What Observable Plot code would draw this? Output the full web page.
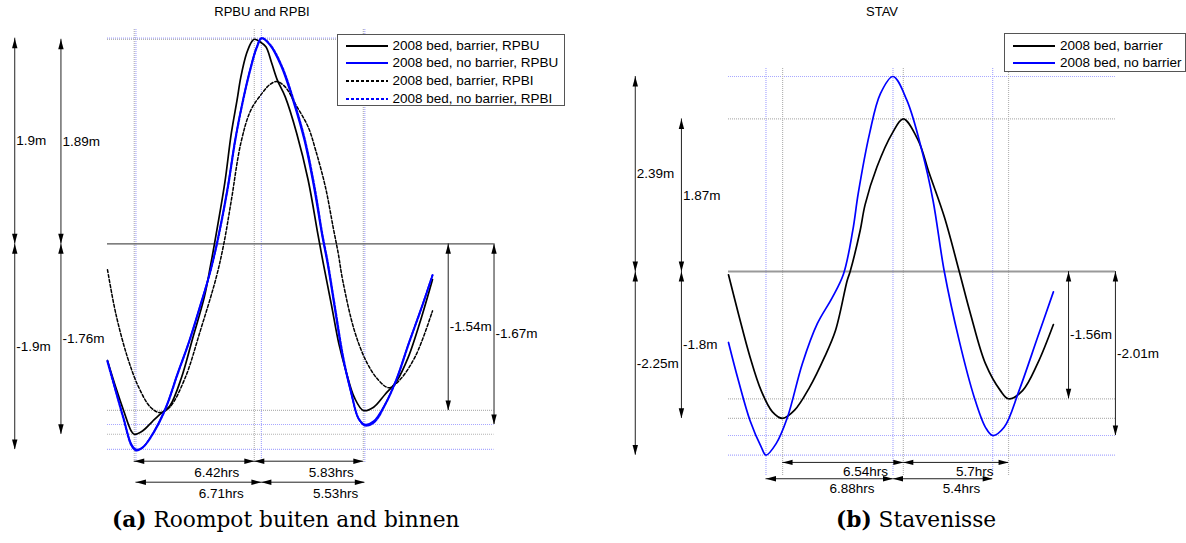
<!DOCTYPE html>
<html><head><meta charset="utf-8">
<script src="https://cdn.jsdelivr.net/npm/d3@7"></script>
<script src="https://cdn.jsdelivr.net/npm/@observablehq/plot@0.6"></script>
<style>
html,body{margin:0;padding:0;background:#fff;}
#fig{position:relative;width:1186px;height:543px;font-family:"Liberation Sans",Arial,sans-serif;color:#000;overflow:hidden}
.panel{position:absolute;top:0;width:593px;height:543px;}
.title{position:absolute;top:4px;font-size:13px;line-height:16px;transform:translateX(-50%);white-space:nowrap}
.plot{position:absolute;top:24px;left:0}
.legend{position:absolute;background:#fff;border:1px solid #555;font-size:13.5px;box-sizing:border-box}
.legend .row{position:absolute;left:0;height:16px;line-height:16px;white-space:nowrap}
.legend svg{position:absolute;top:0}
.legend span{position:absolute;top:0}
.caption{position:absolute;top:507px;font-family:"DejaVu Serif",serif;font-size:21.7px;line-height:26px;white-space:nowrap}
</style></head>
<body>
<div id="fig"></div>
<script>
// ---------------- DATA (hours, metres) ----------------
// Panel (a): Roompot buiten (RPBU) and binnen (RPBI)
const rpbuBarrier = [[0,-1.08],[0.45,-1.33],[0.86,-1.54],[1.27,-1.73],[1.43,-1.76],[1.87,-1.73],[2.41,-1.64],[2.91,-1.56],[3.33,-1.50],[3.95,-1.24],[4.56,-0.87],[5.18,-0.49],[5.51,-0.20],[5.72,0],[6.27,0.56],[6.62,1.02],[6.93,1.33],[7.13,1.54],[7.44,1.76],[7.72,1.87],[7.85,1.89],[8.13,1.87],[8.47,1.82],[8.78,1.67],[9.09,1.51],[9.50,1.36],[10.12,1.02],[10.73,0.59],[11.25,0.09],[11.55,-0.19],[11.97,-0.56],[12.38,-0.93],[12.79,-1.20],[13.20,-1.42],[13.68,-1.54],[14.23,-1.51],[14.85,-1.39],[15.46,-1.27],[16.08,-1.05],[16.79,-0.68],[17.38,-0.33]];
const rpbuNoBarrier = [[0,-1.08],[0.45,-1.36],[0.86,-1.61],[1.27,-1.85],[1.52,-1.90],[1.89,-1.88],[2.50,-1.73],[3.12,-1.51],[3.74,-1.20],[4.36,-0.90],[4.97,-0.56],[5.49,-0.26],[5.90,0.05],[6.42,0.52],[6.82,0.96],[7.24,1.33],[7.65,1.63],[7.96,1.81],[8.23,1.90],[8.67,1.84],[9.29,1.64],[9.91,1.33],[10.52,0.96],[11.04,0.52],[11.46,0.09],[11.77,-0.19],[12.17,-0.62],[12.58,-1.05],[13.00,-1.36],[13.41,-1.61],[13.76,-1.67],[14.23,-1.64],[14.85,-1.48],[15.47,-1.24],[16.08,-0.93],[16.79,-0.59],[17.38,-0.29]];
const rpbiBarrier = [[0,-0.24],[0.45,-0.65],[1.07,-1.05],[1.68,-1.33],[2.30,-1.51],[2.81,-1.56],[3.33,-1.51],[4.15,-1.24],[4.97,-0.80],[5.80,-0.32],[6.22,0.0],[6.62,0.40],[7.13,0.93],[7.65,1.23],[8.26,1.39],[8.67,1.47],[9.05,1.50],[9.50,1.45],[10.12,1.27],[10.73,1.08],[11.14,0.86],[11.66,0.52],[12.07,0.15],[12.34,-0.09],[12.58,-0.34],[13.20,-0.80],[13.82,-1.08],[14.44,-1.25],[15.05,-1.33],[15.67,-1.25],[16.49,-1.03],[17.38,-0.62]];
const rpbiNoBarrier = [[0,-1.09],[0.45,-1.37],[0.86,-1.62],[1.27,-1.86],[1.53,-1.91],[1.90,-1.88],[2.52,-1.73],[3.14,-1.51],[3.76,-1.20],[4.38,-0.90],[4.99,-0.56],[5.51,-0.25],[5.92,0.05],[6.44,0.52],[6.84,0.96],[7.26,1.33],[7.67,1.63],[7.98,1.81],[8.25,1.90],[8.70,1.84],[9.33,1.64],[9.95,1.33],[10.56,0.96],[11.08,0.52],[11.49,0.09],[11.80,-0.19],[12.20,-0.62],[12.61,-1.05],[13.03,-1.37],[13.44,-1.62],[13.79,-1.68],[14.26,-1.65],[14.87,-1.48],[15.49,-1.24],[16.10,-0.93],[16.80,-0.59],[17.38,-0.29]];
// extremes: trough, crest, trough
const aBarrierTimes = [1.43, 7.85, 13.68];
const aBarrierLevels = [-1.76, 1.89, -1.54];
const aBarrierDurations = [6.42, 5.83];
const aNoBarrierTimes = [1.52, 8.23, 13.76];
const aNoBarrierLevels = [-1.9, 1.9, -1.67];
const aNoBarrierDurations = [6.71, 5.53];
const aLegend = ["2008 bed, barrier, RPBU", "2008 bed, no barrier, RPBU", "2008 bed, barrier, RPBI", "2008 bed, no barrier, RPBI"];

// Panel (b): Stavenisse (STAV)
const stavBarrier = [[0,-0.04],[0.54,-0.52],[1.17,-1.05],[1.77,-1.46],[2.38,-1.72],[2.93,-1.80],[3.58,-1.70],[4.39,-1.42],[5.20,-1.05],[5.80,-0.72],[6.43,-0.11],[6.59,0],[7.13,0.50],[7.40,0.82],[8.04,1.28],[8.86,1.69],[9.47,1.87],[10.27,1.61],[10.88,1.20],[11.69,0.67],[12.50,0],[13.11,-0.52],[13.92,-1.13],[14.73,-1.46],[15.17,-1.56],[15.93,-1.46],[16.74,-1.13],[17.60,-0.65]];
const stavNoBarrier = [[0,-0.87],[0.54,-1.34],[1.17,-1.83],[1.77,-2.15],[2.03,-2.25],[2.58,-2.11],[3.19,-1.79],[4.00,-1.13],[4.81,-0.64],[5.62,-0.32],[6.23,-0.03],[6.73,0.50],[7.03,0.96],[7.64,1.69],[8.23,2.18],[8.91,2.39],[9.66,2.10],[10.48,1.48],[11.08,0.87],[11.69,0],[12.50,-0.85],[13.31,-1.54],[13.92,-1.91],[14.31,-2.01],[14.93,-1.91],[15.74,-1.46],[16.74,-0.81],[17.60,-0.25]];
const bBarrierTimes = [2.93, 9.47, 15.17];
const bBarrierLevels = [-1.8, 1.87, -1.56];
const bBarrierDurations = [6.54, 5.7];
const bNoBarrierTimes = [2.03, 8.91, 14.31];
const bNoBarrierLevels = [-2.25, 2.39, -2.01];
const bNoBarrierDurations = [6.88, 5.4];
const bLegend = ["2008 bed, barrier", "2008 bed, no barrier"];

// ---------------- DRAWING ----------------
const BLACK = "#000", BLUE = "#0000ff", GUIDE_GRAY = "#b4b4b4", GUIDE_BLUE = "#a8a8ff";
const HL = 10, HW = 2.7;
const headUp = {draw(c){c.moveTo(0,0);c.lineTo(HW,HL);c.lineTo(-HW,HL);c.closePath();}};
const headDown = {draw(c){c.moveTo(0,0);c.lineTo(HW,-HL);c.lineTo(-HW,-HL);c.closePath();}};
const headLeft = {draw(c){c.moveTo(0,0);c.lineTo(HL,HW);c.lineTo(HL,-HW);c.closePath();}};
const headRight = {draw(c){c.moveTo(0,0);c.lineTo(-HL,HW);c.lineTo(-HL,-HW);c.closePath();}};

function panel(cfg) {
  const marks = [];
  const g = cfg.guides;
  // dotted guide lines at the crests/troughs
  for (const s of cfg.stats) {
    marks.push(Plot.ruleX(s.times, {x: d => d, y1: g.bottom, y2: g.top, stroke: s.guide, strokeWidth: 1.2, strokeDasharray: "1,1"}));
    marks.push(Plot.ruleY(s.levels, {y: d => d, x1: 0, x2: g.right, stroke: s.guide, strokeWidth: 1.2, strokeDasharray: "1,1"}));
  }
  // mean water level line
  marks.push(Plot.ruleY([0], {x1: 0, x2: g.right, stroke: cfg.zeroColor, strokeWidth: cfg.zeroWidth}));
  // water level series
  for (const s of cfg.series) {
    marks.push(Plot.line(s.data, {x: d => d[0], y: d => d[1], stroke: s.color, strokeWidth: s.width, strokeDasharray: s.dash, curve: "catmull-rom"}));
  }
  // vertical dimension arrows
  const vd = [];
  cfg.stats.forEach((s, i) => {
    const c = cfg.cols[i];
    vd.push({x: c.left, top: s.levels[1], bottom: 0});
    vd.push({x: c.left, top: 0, bottom: s.levels[0]});
    vd.push({x: c.right, top: 0, bottom: s.levels[2]});
  });
  marks.push(Plot.ruleX(vd, {x: "x", y1: "bottom", y2: "top", stroke: "#222", strokeWidth: 1}));
  marks.push(Plot.dot(vd, {x: "x", y: "top", symbol: headUp, fill: "#000", stroke: "none"}));
  marks.push(Plot.dot(vd, {x: "x", y: "bottom", symbol: headDown, fill: "#000", stroke: "none"}));
  marks.push(Plot.text(vd, {x: "x", y: d => (d.top + d.bottom) / 2, text: d => `${d.top !== 0 ? d.top : d.bottom}m`, textAnchor: "start", dx: 1.5, fontSize: 13.5, fill: "#000"}));
  // horizontal time arrows
  const hd = [];
  cfg.stats.forEach((s, i) => {
    const row = cfg.rows[i];
    hd.push({y: row, t1: s.times[0], t2: s.times[1], dur: s.durations[0]});
    hd.push({y: row, t1: s.times[1], t2: s.times[2], dur: s.durations[1]});
  });
  marks.push(Plot.ruleY(hd, {y: "y", x1: "t1", x2: "t2", stroke: "#222", strokeWidth: 1}));
  marks.push(Plot.dot(hd, {x: "t1", y: "y", symbol: headLeft, fill: "#000", stroke: "none"}));
  marks.push(Plot.dot(hd, {x: "t2", y: "y", symbol: headRight, fill: "#000", stroke: "none"}));
  marks.push(Plot.text(hd, {x: d => (d.t1 + d.t2) / 2, y: "y", text: d => `${d.dur}hrs`, textAnchor: "start", dy: cfg.labelDy, fontSize: 13.5, fill: "#000"}));

  return Plot.plot({
    width: 593, height: 480,
    marginTop: 0, marginRight: 0, marginBottom: 0, marginLeft: 0,
    x: {domain: cfg.x.domain, range: cfg.x.range, axis: null},
    y: {domain: cfg.y.domain, range: cfg.y.range, axis: null},
    style: {fontFamily: "'Liberation Sans', Arial, sans-serif", fontSize: "13.5px", background: "transparent", overflow: "visible"},
    marks
  });
}

function legendBox(parent, items, box) {
  const lg = document.createElement("div");
  lg.className = "legend";
  Object.assign(lg.style, {left: box.left + "px", top: box.top + "px", width: box.width + "px", height: box.height + "px"});
  items.forEach((it, i) => {
    const row = document.createElement("div");
    row.className = "row";
    row.style.top = (box.first + i * box.step - 8) + "px";
    row.innerHTML = `<svg width="42" height="16" style="left:8px"><line x1="0" x2="42" y1="8" y2="8" stroke="${it.color}" stroke-width="2" ${it.dash ? `stroke-dasharray="${it.dash}"` : ""}/></svg><span style="left:${box.text}px">${it.label}</span>`;
    lg.appendChild(row);
  });
  parent.appendChild(lg);
}

const fig = document.getElementById("fig");
function mkPanel(left, title, titleX, caption, captionX) {
  const p = document.createElement("div");
  p.className = "panel"; p.style.left = left + "px";
  p.innerHTML = `<div class="title" style="left:${titleX}px">${title}</div><div class="plot"></div><div class="caption" style="left:${captionX}px">${caption}</div>`;
  fig.appendChild(p);
  return p;
}

// Panel (a)
const pa = mkPanel(0, "RPBU and RPBI", 262, "<b>(a)</b> Roompot buiten and binnen", 112);
pa.querySelector(".plot").appendChild(panel({
  x: {domain: [0, 17.38], range: [107, 432]},
  y: {domain: [0, 1.9], range: [219.3, 13.7]},
  guides: {top: 1.99, bottom: -2.02, right: 20.67},
  zeroColor: "#555", zeroWidth: 1.2,
  series: [
    {data: rpbuBarrier, color: BLACK, width: 1.7},
    {data: rpbuNoBarrier, color: BLUE, width: 1.7},
    {data: rpbiBarrier, color: BLACK, width: 1.5, dash: "3,2"},
    {data: rpbiNoBarrier, color: BLUE, width: 2, dash: "2.5,1.5"}
  ],
  stats: [
    {times: aNoBarrierTimes, levels: aNoBarrierLevels, durations: aNoBarrierDurations, guide: GUIDE_BLUE},
    {times: aBarrierTimes, levels: aBarrierLevels, durations: aBarrierDurations, guide: GUIDE_GRAY}
  ],
  cols: [{left: -4.96, right: 20.67}, {left: -2.49, right: 18.22}],
  rows: [-2.203, -2.009],
  labelDy: 11
}));
legendBox(pa, [
  {label: aLegend[0], color: BLACK},
  {label: aLegend[1], color: BLUE},
  {label: aLegend[2], color: BLACK, dash: "3,2"},
  {label: aLegend[3], color: BLUE, dash: "3,2"}
], {left: 337, top: 34, width: 228, height: 72, first: 10.5, step: 17.7, text: 54.5});

// Panel (b)
const pb = mkPanel(593, "STAV", 289, "<b>(b)</b> Stavenisse", 243);
pb.querySelector(".plot").appendChild(panel({
  x: {domain: [0, 17.6], range: [135, 459.9]},
  y: {domain: [0, 2.39], range: [247, 52]},
  guides: {top: 2.49, bottom: -2.5, right: 20.96},
  zeroColor: "#999", zeroWidth: 2,
  series: [
    {data: stavBarrier, color: BLACK, width: 1.7},
    {data: stavNoBarrier, color: BLUE, width: 1.7}
  ],
  stats: [
    {times: bNoBarrierTimes, levels: bNoBarrierLevels, durations: bNoBarrierDurations, guide: GUIDE_BLUE},
    {times: bBarrierTimes, levels: bBarrierLevels, durations: bBarrierDurations, guide: GUIDE_GRAY}
  ],
  cols: [{left: -5.05, right: 20.96}, {left: -2.55, right: 18.42}],
  rows: [-2.54, -2.34],
  labelDy: 9.5
}));
legendBox(pb, [
  {label: bLegend[0], color: BLACK},
  {label: bLegend[1], color: BLUE}
], {left: 410.5, top: 33.3, width: 182.5, height: 39, first: 11.7, step: 17.3, text: 55.4});
</script>
</body></html>
